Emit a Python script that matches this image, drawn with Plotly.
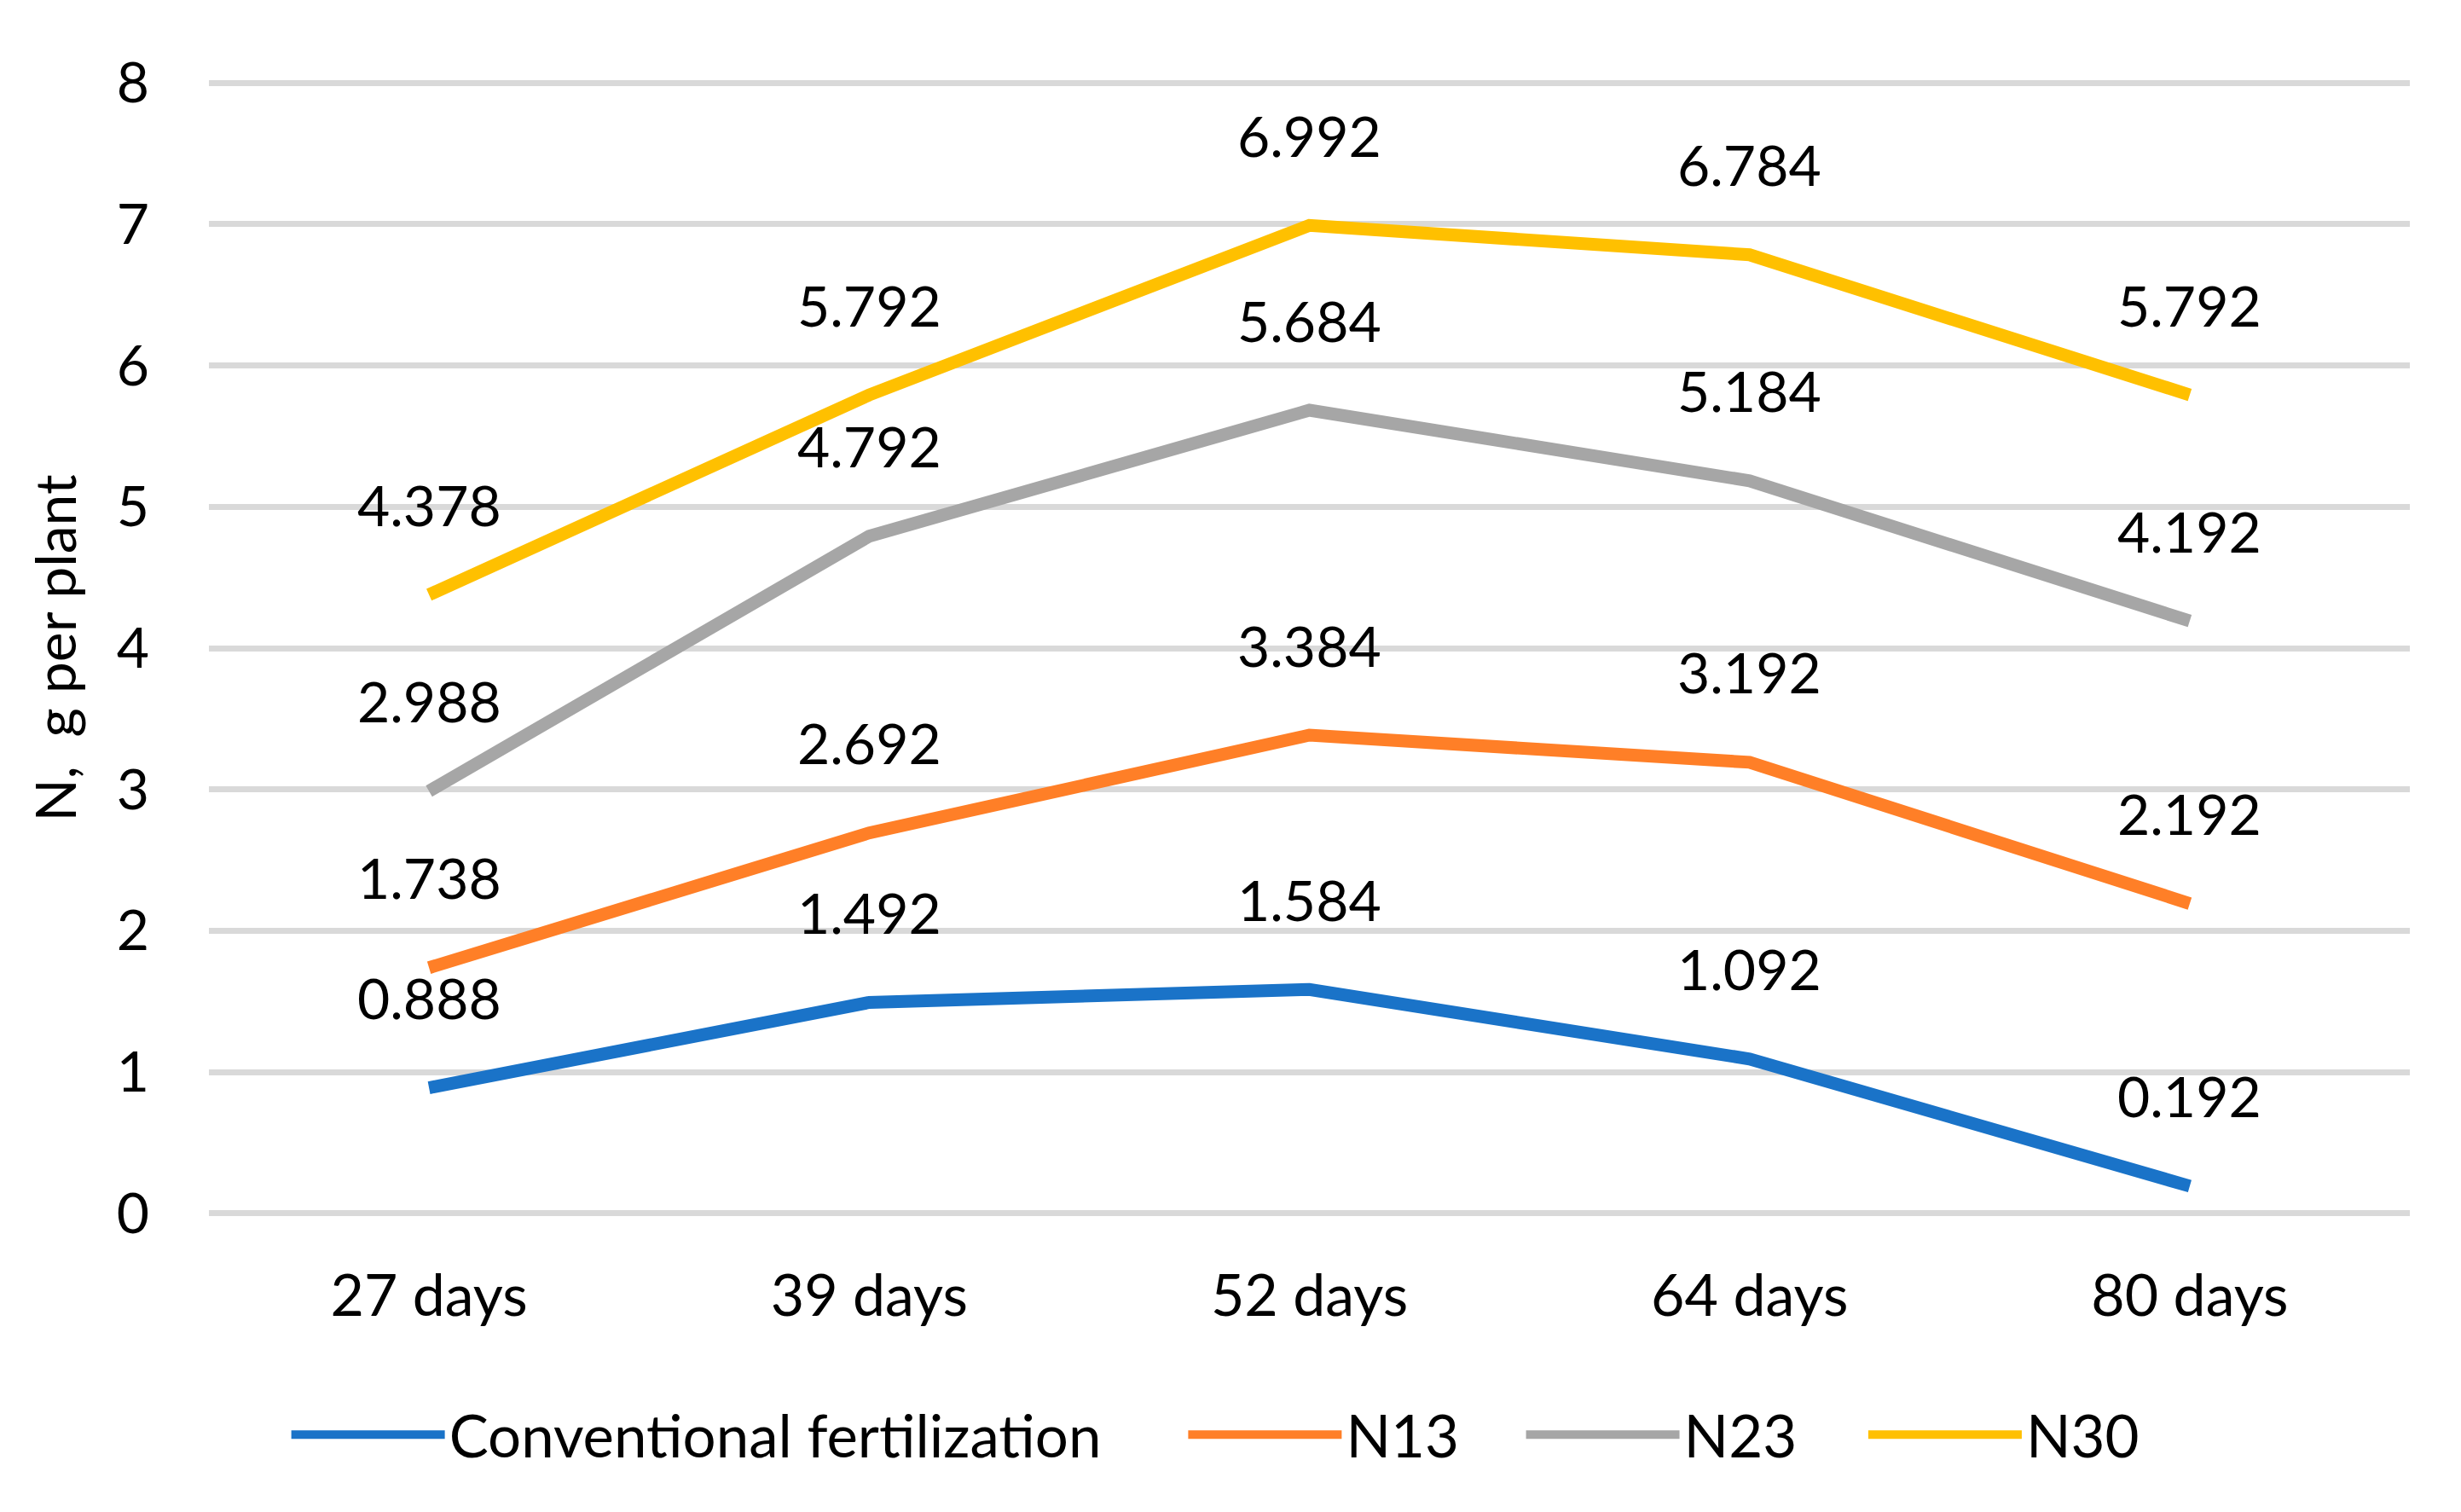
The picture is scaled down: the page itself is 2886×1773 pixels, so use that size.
import plotly.graph_objects as go

categories = ["27 days", "39 days", "52 days", "64 days", "80 days"]
series_names = ["Conventional fertilization", "N13", "N23", "N30"]
conventional = [0.888, 1.492, 1.584, 1.092, 0.192]
n13 = [1.738, 2.692, 3.384, 3.192, 2.192]
n23 = [2.988, 4.792, 5.684, 5.184, 4.192]
n30 = [4.378, 5.792, 6.992, 6.784, 5.792]
y_ticks = [0, 1, 2, 3, 4, 5, 6, 7, 8]

series_values = [conventional, n13, n23, n30]
colors = ["#1A73C8", "#FF7F27", "#A6A6A6", "#FFC000"]
legend_ids = ["legend", "legend2", "legend3", "legend4"]
legend_x = [0.0355, 0.4430, 0.5965, 0.7520]

FONT = "Lato"
FS_NUM = 66
FS_TXT = 68
FS_LEG = 69

fig = go.Figure()
for name, vals, col, lid in zip(series_names, series_values, colors, legend_ids):
    fig.add_trace(go.Scatter(
        x=categories, y=vals, name=name, mode="lines",
        line=dict(color=col, width=15), legend=lid,
    ))

annotations = []
for vals in series_values:
    for c, v in zip(categories, vals):
        annotations.append(dict(
            x=c, y=v, xref="x", yref="y", text=f"{v:.3f}",
            showarrow=False, yshift=106, yanchor="middle",
            font=dict(family=FONT, size=FS_NUM, color="#000000"),
        ))

legend_common = dict(
    orientation="h", y=-0.1925, yanchor="middle", xanchor="left",
    font=dict(family=FONT, size=FS_LEG, color="#000000"),
    itemwidth=180, bgcolor="rgba(0,0,0,0)", borderwidth=0,
)
layout_legends = {}
for lid, lx in zip(legend_ids, legend_x):
    layout_legends[lid] = dict(legend_common, x=lx)

fig.update_layout(
    width=2886, height=1773,
    margin=dict(l=237, r=68, t=86, b=355),
    paper_bgcolor="white", plot_bgcolor="white",
    font=dict(family=FONT, size=FS_NUM, color="#000000"),
    showlegend=True,
    annotations=annotations,
    **layout_legends,
)
fig.update_xaxes(
    type="category", categoryorder="array", categoryarray=categories,
    range=[-0.5, 4.5], showgrid=False, zeroline=False, showline=False,
    ticks="", ticklabelstandoff=48,
    tickfont=dict(family=FONT, size=FS_TXT, color="#000000"),
)
fig.update_yaxes(
    range=[-0.02, 8.02], tickvals=y_ticks, ticktext=[str(t) for t in y_ticks],
    showgrid=True, gridcolor="#D9D9D9", gridwidth=7,
    zeroline=False, showline=False, ticks="", ticklabelstandoff=69,
    tickfont=dict(family=FONT, size=FS_NUM, color="#000000"),
    title=dict(text="\u00a0\u00a0N,\u00a0\u00a0g per plant",
               font=dict(family=FONT, size=FS_NUM, color="#000000"), standoff=25),
)

fig.write_html("out.html")
